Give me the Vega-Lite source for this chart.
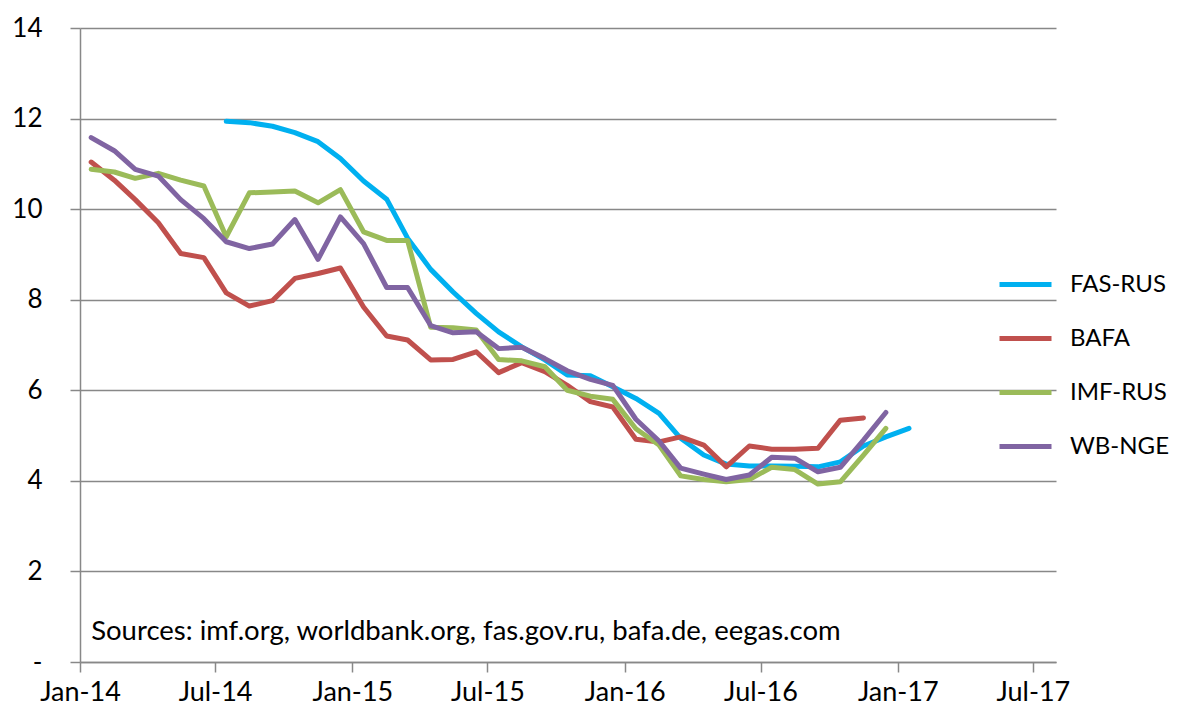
{
  "$schema": "https://vega.github.io/schema/vega-lite/v6.json",
  "width": 976,
  "height": 634,
  "autosize": {"type": "none"},
  "padding": {"left": 80, "top": 28, "right": 123, "bottom": 53},
  "background": "white",
  "config": {
    "view": {"stroke": null},
    "font": "Lato",
    "axis": {"labelFont": "Lato", "labelFontSize": 26, "labelColor": "black"}
  },
  "datasets": {
    "prices": [
      {"date": "2014-07-16", "series": "FAS-RUS", "value": 11.94},
      {"date": "2014-08-16", "series": "FAS-RUS", "value": 11.91},
      {"date": "2014-09-16", "series": "FAS-RUS", "value": 11.83},
      {"date": "2014-10-16", "series": "FAS-RUS", "value": 11.69},
      {"date": "2014-11-16", "series": "FAS-RUS", "value": 11.49},
      {"date": "2014-12-16", "series": "FAS-RUS", "value": 11.12},
      {"date": "2015-01-16", "series": "FAS-RUS", "value": 10.62},
      {"date": "2015-02-16", "series": "FAS-RUS", "value": 10.22},
      {"date": "2015-03-16", "series": "FAS-RUS", "value": 9.36},
      {"date": "2015-04-16", "series": "FAS-RUS", "value": 8.67},
      {"date": "2015-05-16", "series": "FAS-RUS", "value": 8.17},
      {"date": "2015-06-16", "series": "FAS-RUS", "value": 7.70},
      {"date": "2015-07-16", "series": "FAS-RUS", "value": 7.29},
      {"date": "2015-08-16", "series": "FAS-RUS", "value": 6.96},
      {"date": "2015-09-16", "series": "FAS-RUS", "value": 6.67},
      {"date": "2015-10-16", "series": "FAS-RUS", "value": 6.34},
      {"date": "2015-11-16", "series": "FAS-RUS", "value": 6.32},
      {"date": "2015-12-16", "series": "FAS-RUS", "value": 6.08},
      {"date": "2016-01-16", "series": "FAS-RUS", "value": 5.82},
      {"date": "2016-02-16", "series": "FAS-RUS", "value": 5.49},
      {"date": "2016-03-16", "series": "FAS-RUS", "value": 4.94},
      {"date": "2016-04-16", "series": "FAS-RUS", "value": 4.57},
      {"date": "2016-05-16", "series": "FAS-RUS", "value": 4.37},
      {"date": "2016-06-16", "series": "FAS-RUS", "value": 4.33},
      {"date": "2016-07-16", "series": "FAS-RUS", "value": 4.33},
      {"date": "2016-08-16", "series": "FAS-RUS", "value": 4.32},
      {"date": "2016-09-16", "series": "FAS-RUS", "value": 4.31},
      {"date": "2016-10-16", "series": "FAS-RUS", "value": 4.42},
      {"date": "2016-11-16", "series": "FAS-RUS", "value": 4.77},
      {"date": "2016-12-16", "series": "FAS-RUS", "value": 4.97},
      {"date": "2017-01-16", "series": "FAS-RUS", "value": 5.16},

      {"date": "2014-01-16", "series": "BAFA", "value": 11.04},
      {"date": "2014-02-16", "series": "BAFA", "value": 10.64},
      {"date": "2014-03-16", "series": "BAFA", "value": 10.21},
      {"date": "2014-04-16", "series": "BAFA", "value": 9.70},
      {"date": "2014-05-16", "series": "BAFA", "value": 9.02},
      {"date": "2014-06-16", "series": "BAFA", "value": 8.93},
      {"date": "2014-07-16", "series": "BAFA", "value": 8.15},
      {"date": "2014-08-16", "series": "BAFA", "value": 7.86},
      {"date": "2014-09-16", "series": "BAFA", "value": 7.98},
      {"date": "2014-10-16", "series": "BAFA", "value": 8.47},
      {"date": "2014-11-16", "series": "BAFA", "value": 8.58},
      {"date": "2014-12-16", "series": "BAFA", "value": 8.70},
      {"date": "2015-01-16", "series": "BAFA", "value": 7.84},
      {"date": "2015-02-16", "series": "BAFA", "value": 7.20},
      {"date": "2015-03-16", "series": "BAFA", "value": 7.11},
      {"date": "2015-04-16", "series": "BAFA", "value": 6.67},
      {"date": "2015-05-16", "series": "BAFA", "value": 6.68},
      {"date": "2015-06-16", "series": "BAFA", "value": 6.85},
      {"date": "2015-07-16", "series": "BAFA", "value": 6.39},
      {"date": "2015-08-16", "series": "BAFA", "value": 6.61},
      {"date": "2015-09-16", "series": "BAFA", "value": 6.41},
      {"date": "2015-10-16", "series": "BAFA", "value": 6.11},
      {"date": "2015-11-16", "series": "BAFA", "value": 5.75},
      {"date": "2015-12-16", "series": "BAFA", "value": 5.63},
      {"date": "2016-01-16", "series": "BAFA", "value": 4.92},
      {"date": "2016-02-16", "series": "BAFA", "value": 4.86},
      {"date": "2016-03-16", "series": "BAFA", "value": 4.97},
      {"date": "2016-04-16", "series": "BAFA", "value": 4.79},
      {"date": "2016-05-16", "series": "BAFA", "value": 4.31},
      {"date": "2016-06-16", "series": "BAFA", "value": 4.77},
      {"date": "2016-07-16", "series": "BAFA", "value": 4.70},
      {"date": "2016-08-16", "series": "BAFA", "value": 4.70},
      {"date": "2016-09-16", "series": "BAFA", "value": 4.72},
      {"date": "2016-10-16", "series": "BAFA", "value": 5.34},
      {"date": "2016-11-16", "series": "BAFA", "value": 5.39},

      {"date": "2014-01-16", "series": "IMF-RUS", "value": 10.88},
      {"date": "2014-02-16", "series": "IMF-RUS", "value": 10.82},
      {"date": "2014-03-16", "series": "IMF-RUS", "value": 10.68},
      {"date": "2014-04-16", "series": "IMF-RUS", "value": 10.79},
      {"date": "2014-05-16", "series": "IMF-RUS", "value": 10.64},
      {"date": "2014-06-16", "series": "IMF-RUS", "value": 10.51},
      {"date": "2014-07-16", "series": "IMF-RUS", "value": 9.39},
      {"date": "2014-08-16", "series": "IMF-RUS", "value": 10.36},
      {"date": "2014-09-16", "series": "IMF-RUS", "value": 10.38},
      {"date": "2014-10-16", "series": "IMF-RUS", "value": 10.40},
      {"date": "2014-11-16", "series": "IMF-RUS", "value": 10.14},
      {"date": "2014-12-16", "series": "IMF-RUS", "value": 10.43},
      {"date": "2015-01-16", "series": "IMF-RUS", "value": 9.50},
      {"date": "2015-02-16", "series": "IMF-RUS", "value": 9.31},
      {"date": "2015-03-16", "series": "IMF-RUS", "value": 9.31},
      {"date": "2015-04-16", "series": "IMF-RUS", "value": 7.39},
      {"date": "2015-05-16", "series": "IMF-RUS", "value": 7.38},
      {"date": "2015-06-16", "series": "IMF-RUS", "value": 7.33},
      {"date": "2015-07-16", "series": "IMF-RUS", "value": 6.68},
      {"date": "2015-08-16", "series": "IMF-RUS", "value": 6.65},
      {"date": "2015-09-16", "series": "IMF-RUS", "value": 6.52},
      {"date": "2015-10-16", "series": "IMF-RUS", "value": 6.00},
      {"date": "2015-11-16", "series": "IMF-RUS", "value": 5.87},
      {"date": "2015-12-16", "series": "IMF-RUS", "value": 5.80},
      {"date": "2016-01-16", "series": "IMF-RUS", "value": 5.15},
      {"date": "2016-02-16", "series": "IMF-RUS", "value": 4.79},
      {"date": "2016-03-16", "series": "IMF-RUS", "value": 4.11},
      {"date": "2016-04-16", "series": "IMF-RUS", "value": 4.03},
      {"date": "2016-05-16", "series": "IMF-RUS", "value": 3.98},
      {"date": "2016-06-16", "series": "IMF-RUS", "value": 4.03},
      {"date": "2016-07-16", "series": "IMF-RUS", "value": 4.30},
      {"date": "2016-08-16", "series": "IMF-RUS", "value": 4.25},
      {"date": "2016-09-16", "series": "IMF-RUS", "value": 3.93},
      {"date": "2016-10-16", "series": "IMF-RUS", "value": 3.98},
      {"date": "2016-11-16", "series": "IMF-RUS", "value": 4.57},
      {"date": "2016-12-16", "series": "IMF-RUS", "value": 5.16},

      {"date": "2014-01-16", "series": "WB-NGE", "value": 11.58},
      {"date": "2014-02-16", "series": "WB-NGE", "value": 11.29},
      {"date": "2014-03-16", "series": "WB-NGE", "value": 10.88},
      {"date": "2014-04-16", "series": "WB-NGE", "value": 10.73},
      {"date": "2014-05-16", "series": "WB-NGE", "value": 10.21},
      {"date": "2014-06-16", "series": "WB-NGE", "value": 9.79},
      {"date": "2014-07-16", "series": "WB-NGE", "value": 9.28},
      {"date": "2014-08-16", "series": "WB-NGE", "value": 9.13},
      {"date": "2014-09-16", "series": "WB-NGE", "value": 9.23},
      {"date": "2014-10-16", "series": "WB-NGE", "value": 9.77},
      {"date": "2014-11-16", "series": "WB-NGE", "value": 8.89},
      {"date": "2014-12-16", "series": "WB-NGE", "value": 9.83},
      {"date": "2015-01-16", "series": "WB-NGE", "value": 9.24},
      {"date": "2015-02-16", "series": "WB-NGE", "value": 8.27},
      {"date": "2015-03-16", "series": "WB-NGE", "value": 8.27},
      {"date": "2015-04-16", "series": "WB-NGE", "value": 7.43},
      {"date": "2015-05-16", "series": "WB-NGE", "value": 7.27},
      {"date": "2015-06-16", "series": "WB-NGE", "value": 7.29},
      {"date": "2015-07-16", "series": "WB-NGE", "value": 6.92},
      {"date": "2015-08-16", "series": "WB-NGE", "value": 6.95},
      {"date": "2015-09-16", "series": "WB-NGE", "value": 6.70},
      {"date": "2015-10-16", "series": "WB-NGE", "value": 6.43},
      {"date": "2015-11-16", "series": "WB-NGE", "value": 6.24},
      {"date": "2015-12-16", "series": "WB-NGE", "value": 6.11},
      {"date": "2016-01-16", "series": "WB-NGE", "value": 5.36},
      {"date": "2016-02-16", "series": "WB-NGE", "value": 4.88},
      {"date": "2016-03-16", "series": "WB-NGE", "value": 4.28},
      {"date": "2016-04-16", "series": "WB-NGE", "value": 4.15},
      {"date": "2016-05-16", "series": "WB-NGE", "value": 4.03},
      {"date": "2016-06-16", "series": "WB-NGE", "value": 4.13},
      {"date": "2016-07-16", "series": "WB-NGE", "value": 4.52},
      {"date": "2016-08-16", "series": "WB-NGE", "value": 4.50},
      {"date": "2016-09-16", "series": "WB-NGE", "value": 4.20},
      {"date": "2016-10-16", "series": "WB-NGE", "value": 4.30},
      {"date": "2016-11-16", "series": "WB-NGE", "value": 4.90},
      {"date": "2016-12-16", "series": "WB-NGE", "value": 5.51}
    ],
    "notes": [
      {"note": "Sources: imf.org, worldbank.org, fas.gov.ru, bafa.de, eegas.com"}
    ]
  },
  "layer": [
    {
      "data": {"name": "prices"},
      "mark": {"type": "line", "strokeWidth": 5, "strokeCap": "round", "strokeJoin": "round"},
      "encoding": {
        "x": {
          "field": "date",
          "type": "temporal",
          "scale": {"type": "utc", "domain": [{"year": 2014, "month": 1, "date": 1, "utc": true}, {"year": 2017, "month": 8, "date": 1, "utc": true}]},
          "axis": {
            "title": null,
            "values": [
              {"year": 2014, "month": 1, "date": 1, "utc": true},
              {"year": 2014, "month": 7, "date": 1, "utc": true},
              {"year": 2015, "month": 1, "date": 1, "utc": true},
              {"year": 2015, "month": 7, "date": 1, "utc": true},
              {"year": 2016, "month": 1, "date": 1, "utc": true},
              {"year": 2016, "month": 7, "date": 1, "utc": true},
              {"year": 2017, "month": 1, "date": 1, "utc": true},
              {"year": 2017, "month": 7, "date": 1, "utc": true}
            ],
            "labelExpr": "utcFormat(datum.value, '%b-%y')",
            "labelFontSize": 27,
            "grid": false,
            "domainColor": "#888888",
            "domainWidth": 1.5,
            "tickColor": "#888888",
            "tickWidth": 1.5,
            "tickSize": 10,
            "labelPadding": 7,
            "labelFlush": false,
            "labelOverlap": false
          }
        },
        "y": {
          "field": "value",
          "type": "quantitative",
          "scale": {"domain": [0, 14], "nice": false, "zero": true},
          "axis": {
            "title": null,
            "values": [0, 2, 4, 6, 8, 10, 12, 14],
            "labelExpr": "datum.value === 0 ? '-' : datum.label",
            "grid": true,
            "gridColor": "#888888",
            "gridWidth": 1.5,
            "domainColor": "#888888",
            "domainWidth": 1.5,
            "tickColor": "#888888",
            "tickWidth": 1.5,
            "tickSize": 10,
            "labelPadding": 28
          }
        },
        "color": {
          "field": "series",
          "type": "nominal",
          "sort": ["FAS-RUS", "BAFA", "IMF-RUS", "WB-NGE"],
          "scale": {"domain": ["FAS-RUS", "BAFA", "IMF-RUS", "WB-NGE"], "range": ["#00B0F0", "#C0504D", "#9BBB59", "#8064A2"]},
          "legend": {
            "title": null,
            "orient": "none",
            "legendX": 917,
            "legendY": 228,
            "symbolType": "stroke",
            "symbolSize": 2704,
            "symbolStrokeWidth": 5,
            "labelFont": "Lato",
            "labelFontSize": 24,
            "labelColor": "black",
            "labelOffset": 16,
            "rowPadding": 13
          }
        }
      }
    },
    {
      "data": {"name": "notes"},
      "mark": {"type": "text", "align": "left", "baseline": "middle", "font": "Lato", "fontSize": 27.5, "fill": "black"},
      "encoding": {
        "x": {"datum": {"year": 2014, "month": 1, "date": 16, "utc": true}, "type": "temporal"},
        "y": {"datum": 0.66, "type": "quantitative"},
        "text": {"field": "note", "type": "nominal"}
      }
    }
  ]
}
